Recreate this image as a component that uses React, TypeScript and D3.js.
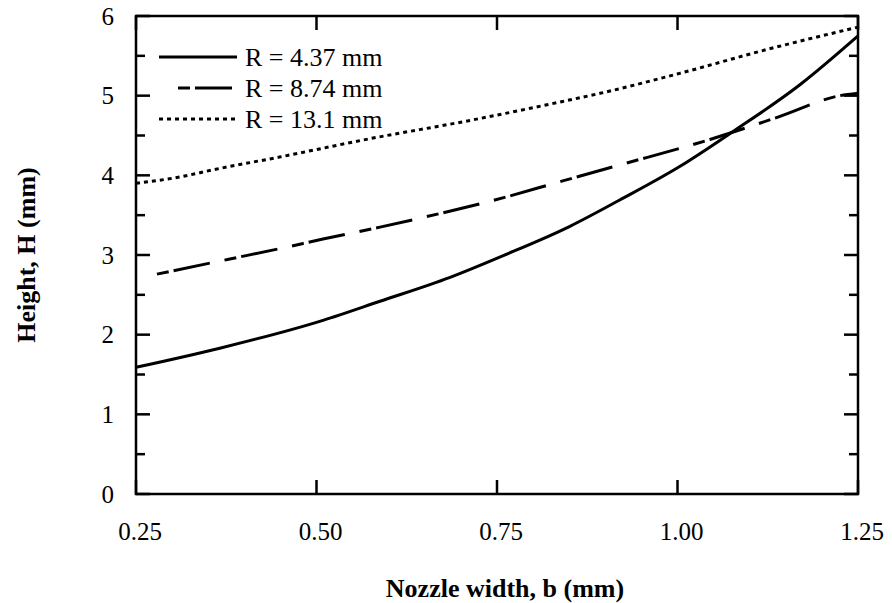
import * as d3 from "d3";
import React from "react";

// series: nozzle width b (mm) vs height H (mm)
const bSmall = [0.25, 0.366, 0.509, 0.588, 0.685, 0.758, 0.851, 0.92, 1.003, 1.077, 1.17, 1.25];
const hSmall = [1.59, 1.83, 2.18, 2.42, 2.72, 2.99, 3.36, 3.69, 4.11, 4.55, 5.14, 5.75];

const bMid = [0.279, 0.38, 0.449, 0.509, 0.588, 0.647, 0.747, 0.841, 0.92, 1.045, 1.142, 1.225, 1.25];
const hMid = [2.76, 2.95, 3.08, 3.2, 3.35, 3.47, 3.69, 3.93, 4.13, 4.45, 4.74, 5.0, 5.03];

const bLarge = [0.25, 0.311, 0.357, 0.449, 0.574, 0.713, 0.837, 0.893, 1.003, 1.124, 1.25];
const hLarge = [3.9, 3.98, 4.07, 4.23, 4.46, 4.69, 4.92, 5.03, 5.28, 5.58, 5.86];

const legendLabels = ["R = 4.37 mm", "R = 8.74 mm", "R = 13.1 mm"];
const xTicks = [0.25, 0.5, 0.75, 1.0, 1.25];
const yTicks = [0, 1, 2, 3, 4, 5, 6];
const yMinor = [0.5, 1.5, 2.5, 3.5, 4.5, 5.5];

const W = 892, H = 603;
const m = { l: 136, r: 858, t: 16, b: 494 };
const FONT = "'Liberation Serif', 'Times New Roman', serif";

const dashes = ["none", "12,5,37,15", "4,4"];

export default function App() {
  const x = d3.scaleLinear().domain([0.25, 1.25]).range([m.l, m.r]);
  const y = d3.scaleLinear().domain([0, 6]).range([m.b, m.t]);

  const line = d3.line<[number, number]>()
    .x(d => x(d[0]))
    .y(d => y(d[1]))
    .curve(d3.curveMonotoneX);

  const series = [
    d3.zip(bSmall, hSmall) as [number, number][],
    d3.zip(bMid, hMid) as [number, number][],
    d3.zip(bLarge, hLarge) as [number, number][],
  ];

  const major = 14, minor = 9;

  return (
    <svg width={W} height={H} style={{ position: "absolute", left: 0, top: 0, background: "#fff" }}>
      <g fill="none" stroke="#000" strokeWidth={3} strokeLinejoin="round">
        {series.map((s, i) => (
          <path key={i} d={line(s) || ""} strokeDasharray={dashes[i]} />
        ))}
      </g>

      {/* frame */}
      <rect x={m.l} y={m.t} width={m.r - m.l} height={m.b - m.t} fill="none" stroke="#000" strokeWidth={2.5} />

      {/* ticks, inward on all four sides */}
      <g stroke="#000" strokeWidth={2.5}>
        {xTicks.map(t => (
          <g key={"x" + t}>
            <line x1={x(t)} x2={x(t)} y1={m.b} y2={m.b - major} />
            <line x1={x(t)} x2={x(t)} y1={m.t} y2={m.t + major} />
          </g>
        ))}
        {yTicks.map(t => (
          <g key={"y" + t}>
            <line x1={m.l} x2={m.l + major} y1={y(t)} y2={y(t)} />
            <line x1={m.r} x2={m.r - major} y1={y(t)} y2={y(t)} />
          </g>
        ))}
        {yMinor.map(t => (
          <g key={"ym" + t}>
            <line x1={m.l} x2={m.l + minor} y1={y(t)} y2={y(t)} />
            <line x1={m.r} x2={m.r - minor} y1={y(t)} y2={y(t)} />
          </g>
        ))}
      </g>

      <g fontFamily={FONT} fontSize={25} fill="#000">
        {xTicks.map(t => (
          <text key={"xl" + t} x={x(t) + 4} y={540} textAnchor="middle">{t.toFixed(2)}</text>
        ))}
        {yTicks.map(t => (
          <text key={"yl" + t} x={m.l - 22} y={y(t)} dy="0.35em" textAnchor="end">{t}</text>
        ))}
      </g>

      <text x={(m.l + m.r) / 2 + 8} y={597} textAnchor="middle" fontFamily={FONT} fontWeight="bold" fontSize={26}>
        Nozzle width, b (mm)
      </text>
      <text transform={`translate(35, ${(m.t + m.b) / 2}) rotate(-90)`} textAnchor="middle" fontFamily={FONT} fontWeight="bold" fontSize={26}>
        Height, H (mm)
      </text>

      {/* legend */}
      <g fontFamily={FONT} fontSize={26}>
        {legendLabels.map((lab, i) => {
          const ly = 57 + i * 31;
          return (
            <g key={lab}>
              <line x1={i === 1 ? 178 : 159} x2={i === 1 ? 232 : 237} y1={ly} y2={ly}
                stroke="#000" strokeWidth={3} strokeDasharray={dashes[i]} />
              <text x={245} y={ly} dy="0.33em">{lab}</text>
            </g>
          );
        })}
      </g>
    </svg>
  );
}
